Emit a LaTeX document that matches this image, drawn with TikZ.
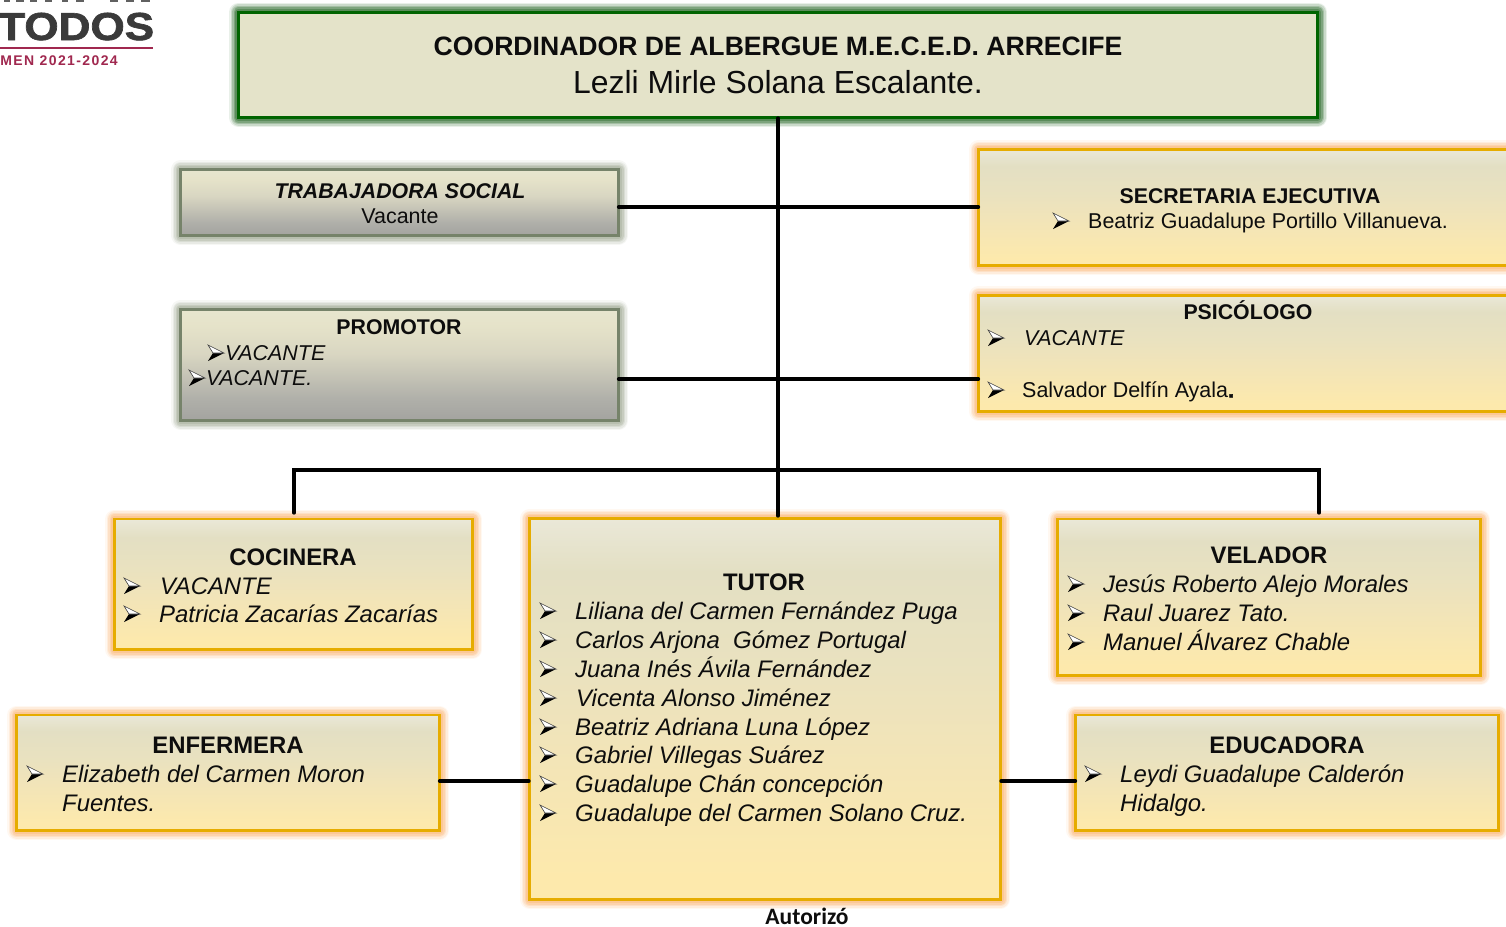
\documentclass[tikz,border=0pt]{standalone}
\usepackage{fontspec}
\setmainfont{Liberation Sans}
\newfontfamily\calfont{Carlito}
\usetikzlibrary{calc}
\definecolor{ink}{HTML}{0D0D0D}
\definecolor{golden}{HTML}{E6AC00}
\definecolor{glowor}{HTML}{FBB777}
\definecolor{glowgr}{HTML}{A3AC97}
\definecolor{glowdk}{HTML}{2A6A2A}
\definecolor{olive}{HTML}{76836A}
\definecolor{dkgreen}{HTML}{006400}
\definecolor{cream}{HTML}{E4E3C9}
\definecolor{logogray}{HTML}{3A3A3A}
\definecolor{crimson}{HTML}{A0284F}
\pgfdeclareverticalshading{yshade}{100bp}{
 rgb(0bp)=(0.992,0.914,0.675);
 rgb(25bp)=(0.992,0.914,0.675);
 rgb(28bp)=(0.992,0.914,0.675);
 rgb(46bp)=(0.945,0.894,0.725);
 rgb(56bp)=(0.915,0.885,0.750);
 rgb(68bp)=(0.890,0.875,0.765);
 rgb(75bp)=(0.918,0.910,0.847);
 rgb(100bp)=(0.918,0.910,0.847)}
\pgfdeclareverticalshading{gshade}{100bp}{
 rgb(0bp)=(0.640,0.640,0.625);
 rgb(25bp)=(0.640,0.640,0.625);
 rgb(35bp)=(0.690,0.690,0.665);
 rgb(55bp)=(0.850,0.840,0.760);
 rgb(68bp)=(0.900,0.890,0.790);
 rgb(75bp)=(0.905,0.900,0.810);
 rgb(100bp)=(0.905,0.900,0.810)}
\tikzset{
 x=1pt,y=-1pt,
 hd/.style={anchor=base,inner sep=0pt,text=ink,font=\fontsize{23.9}{23.9}\selectfont\bfseries},
 lt/.style={anchor=base west,inner sep=0pt,text=ink,font=\fontsize{23.9}{23.9}\selectfont\itshape},
 hds/.style={anchor=base,inner sep=0pt,text=ink,font=\fontsize{21.3}{21.3}\selectfont\bfseries},
 lts/.style={anchor=base west,inner sep=0pt,text=ink,font=\fontsize{21.45}{21.45}\selectfont},
 ltsi/.style={lts,font=\fontsize{21.45}{21.45}\selectfont\itshape},
 wire/.style={draw=black,line width=3.2pt,line cap=round},
 ybox/.style={draw=golden,line width=2.6pt,shading=yshade},
 gbox/.style={draw=olive,line width=2.8pt,shading=gshade},
 tbox/.style={draw=dkgreen,line width=3pt,fill=cream},
 arw/.pic={
  \fill[black] (5,0) -- (16,0) -- (0,8) -- cycle;
  \filldraw[fill=white,draw=black!75,line width=.6pt] (0,-8) -- (16,0) -- (5,0) -- cycle;
 }
}
\newcommand\bxx[7]{% name x1 y1 x2 y2 style glowcolour
 \foreach \w/\o in {19/.10,16/.16,13/.24,10/.32,7/.4}{
  \draw[#7,opacity=\o,line width=\w pt,line join=round] (#2,#3) rectangle (#4,#5);}
 \pgfmathsetmacro\wdt{#4-#2}\pgfmathsetmacro\hgt{#5-#3}
 \node[#6,rectangle,inner sep=0pt,outer sep=0pt,minimum width=\wdt pt,minimum height=\hgt pt] (#1) at ({(#2+#4)/2},{(#3+#5)/2}) {};
}
\newcommand\bul[2]{\pic at (#1,#2-8) {arw};}
\begin{document}
\begin{tikzpicture}
\useasboundingbox (0,0) rectangle (1506,926);
\clip (0,0) rectangle (1506,926);
% logo
\foreach \a/\b in {4/10,16/24,30/37,45/52,62/68,76/84,110/118,126/134,141/150}{
 \fill[logogray,opacity=.8] (\a,0) rectangle (\b,2);}
\node[anchor=base west,inner sep=0pt,text=logogray,font=\fontsize{39}{39}\selectfont\bfseries,xscale=1.13,transform shape] (logotext) at (-2,40) {\addfontfeature{FakeBold=1.6}TODOS};
\coordinate (logoa) at (0,48);
\coordinate (logob) at (153,48);
\draw[crimson,line width=2.6pt] (logoa) -- (logob);
\node[anchor=base east,inner sep=0pt,text=crimson,font=\fontsize{14}{14}\selectfont\bfseries] (logoyear) at (118,65) {\addfontfeature{LetterSpace=10}MEN 2021-2024};
% boxes
\bxx{title}{238.5}{12}{1317.5}{117.5}{tbox}{glowdk}
\bxx{trab}{180.5}{169.5}{618.5}{235.5}{gbox}{glowgr}
\bxx{prom}{180.5}{309.5}{618.5}{420.5}{gbox}{glowgr}
\bxx{secr}{978.5}{149.5}{1520}{265.5}{ybox}{glowor}
\bxx{psic}{978.5}{295.5}{1520}{411.5}{ybox}{glowor}
\bxx{coci}{114.5}{519}{472.5}{649.5}{ybox}{glowor}
\bxx{tuto}{529.5}{518.5}{1000.5}{899.5}{ybox}{glowor}
\bxx{vela}{1057.5}{519}{1480.5}{675.5}{ybox}{glowor}
\bxx{enfe}{16.5}{715}{439.5}{830.5}{ybox}{glowor}
\bxx{educ}{1075.5}{715}{1498.5}{830.5}{ybox}{glowor}
% connectors
\coordinate (spine) at (778,118);
\coordinate (ja) at (778,207);
\coordinate (jb) at (778,379);
\coordinate (jc) at (778,470);
\coordinate (jl) at (294,470);
\coordinate (jr) at (1319,470);
\coordinate (jlb) at (294,513);
\coordinate (jrb) at (1319,513);
\coordinate (jt) at (778,516);
\coordinate (jm) at (529,781);
\coordinate (jn) at (1001,781);
\draw[wire] (spine) -- (jt);
\draw[wire] (ja -| trab.east) -- (ja -| secr.west);
\draw[wire] (jb -| prom.east) -- (jb -| psic.west);
\draw[wire,line join=miter] (jlb) -- (jl) -- (jr) -- (jrb);
\draw[wire] (jm -| enfe.east) -- (jm);
\draw[wire] (jn) -- (jn -| educ.west);
% title
\node[anchor=base,inner sep=0pt,text=ink,font=\fontsize{26.6}{26.6}\selectfont\bfseries] (t1) at (778,55) {COORDINADOR DE ALBERGUE M.E.C.E.D. ARRECIFE};
\node[anchor=base,inner sep=0pt,text=ink,font=\fontsize{31.9}{31.9}\selectfont] (t2) at (778,93) {Lezli Mirle Solana Escalante.};
% trabajadora
\node[hds,font=\fontsize{21.3}{21.3}\selectfont\bfseries\itshape] (a1) at (400,198) {TRABAJADORA SOCIAL};
\node[anchor=base,inner sep=0pt,text=ink,font=\fontsize{21.45}{21.45}\selectfont] (a2) at (400,223) {Vacante};
% promotor
\node[hds] (b1) at (399,334.5) {PROMOTOR};
\bul{208}{361}\node[ltsi] (b2) at (225,360.5) {VACANTE};
\bul{189}{386}\node[ltsi] (b3) at (206,385.5) {VACANTE.};
% secretaria
\node[hds] (c1) at (1250,203) {SECRETARIA EJECUTIVA};
\bul{1053}{229}\node[lts] (c2) at (1088,228.5) {Beatriz Guadalupe Portillo Villanueva.};
% psicologo
\node[hds] (d1) at (1248,319.5) {PSICÓLOGO};
\bul{988}{346}\node[ltsi] (d2) at (1024,345.5) {VACANTE};
\bul{988}{398}\node[lts] (d3) at (1022,397.5) {Salvador Delfín Ayala{\bfseries\addfontfeature{FakeBold=2}.}};
% cocinera
\node[hd] (e1) at (293,565) {COCINERA};
\bul{124}{594}\node[lt] (e2) at (160,594) {VACANTE};
\bul{124}{622}\node[lt] (e3) at (159,622) {Patricia Zacarías Zacarías};
% tutor
\node[hd] (f0) at (764,590) {TUTOR};
\bul{540}{619}\node[lt] (f1) at (575,619) {Liliana del Carmen Fernández Puga};
\bul{540}{648}\node[lt] (f2) at (575,648) {Carlos Arjona\ \ Gómez Portugal};
\bul{540}{677}\node[lt] (f3) at (575,677) {Juana Inés Ávila Fernández};
\bul{540}{706}\node[lt] (f4) at (576,706) {Vicenta Alonso Jiménez};
\bul{540}{735}\node[lt] (f5) at (575,735) {Beatriz Adriana Luna López};
\bul{540}{763}\node[lt] (f6) at (575,763) {Gabriel Villegas Suárez};
\bul{540}{792}\node[lt] (f7) at (575,792) {Guadalupe Chán concepción};
\bul{540}{821}\node[lt] (f8) at (575,821) {Guadalupe del Carmen Solano Cruz.};
% velador
\node[hd] (g0) at (1269,563) {VELADOR};
\bul{1068}{592}\node[lt] (g1) at (1103,592) {Jesús Roberto Alejo Morales};
\bul{1068}{621}\node[lt] (g2) at (1103,621) {Raul Juarez Tato.};
\bul{1068}{650}\node[lt] (g3) at (1103,650) {Manuel Álvarez Chable};
% enfermera
\node[hd] (h0) at (228,753) {ENFERMERA};
\bul{27}{782}\node[lt] (h1) at (62,782) {Elizabeth del Carmen Moron};
\node[lt] (h2) at (62,811) {Fuentes.};
% educadora
\node[hd] (i0) at (1287,753) {EDUCADORA};
\bul{1085}{782}\node[lt] (i1) at (1120,782) {Leydi Guadalupe Calderón};
\node[lt] (i2) at (1120,811) {Hidalgo.};
% autorizo
\node[anchor=base,inner sep=0pt,text=ink,font=\calfont\fontsize{23.5}{23.5}\selectfont\bfseries] (z) at (807,924.5) {Autorizó};
\end{tikzpicture}
\end{document}
